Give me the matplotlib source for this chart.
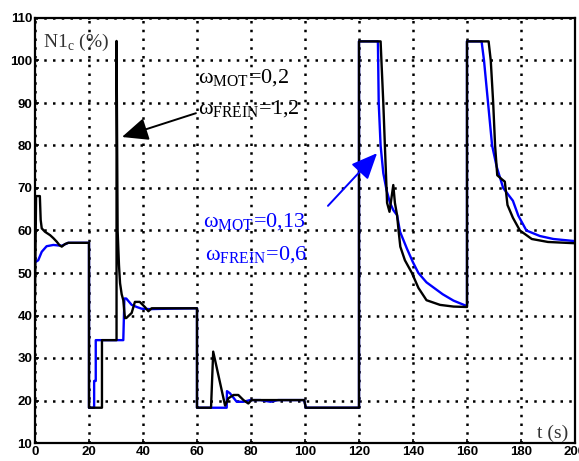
import numpy as np
import matplotlib
matplotlib.use('Agg')
import matplotlib.pyplot as plt

plt.rcParams['mathtext.fontset'] = 'custom'
plt.rcParams['mathtext.rm'] = 'Liberation Serif'

# black response (omega_MOT=0,2 / omega_FREIN=1,2)
t_black = [0, 0.4, 1.8, 2.1, 2.5, 3.7, 5.6, 6.8, 8, 9, 9.9, 11.1, 12.3, 20,
           20, 24.8, 24.8, 30.2, 30.2, 30.6, 31.1, 31.5, 32.1, 32.7, 33.3,
           33.8, 35.8, 37, 38.8, 40.7, 42, 43.2, 60, 60, 65.2, 66, 70.4, 71.6,
           73.5, 75.3, 77.2, 79, 80.2, 99.7, 100.3, 120, 120, 128, 128.4, 129,
           129.6, 130.4, 131.3, 132.7, 133.3, 134.1, 134.7, 135.3, 137, 139.6,
           142, 145, 150, 155, 160, 160, 168, 168.8, 169.7, 170.4, 171.2, 173,
           174, 175, 177, 179.6, 184, 190, 200]
n1_black = [44.8, 68.1, 68.1, 62.5, 60.5, 59.7, 58.9, 58.2, 57.4, 56.6, 56.2,
            56.8, 57.1, 57.1, 18.3, 18.3, 34.2, 34.2, 104.6, 60, 51.9, 47.6,
            45, 43.6, 39.4, 39.4, 40.6, 43.2, 43.2, 42, 41, 41.7, 41.7, 18.3,
            18.3, 31.5, 18.8, 20.5, 21.3, 21.3, 20.1, 19.3, 20.1, 20.1, 18.3,
            18.3, 104.5, 104.5, 98.6, 90, 79.7, 66.5, 64.4, 70.7, 66.5, 63.6,
            59.7, 56.2, 53, 50, 46.5, 43.6, 42.5, 42.1, 42, 104.5, 104.5, 100,
            90, 80, 73, 72, 71.5, 66, 63, 60, 58, 57.3, 57]

# blue response (omega_MOT=0,13 / omega_FREIN=0,6)
t_blue = [0, 1.2, 2.5, 4.3, 6.8, 9.9, 12.3, 20, 20, 21.9, 21.9, 22.5, 22.5,
          32.7, 32.9, 33.1, 33.8, 35.8, 37.7, 39.5, 42.6, 49.4, 60, 60, 71,
          71.1, 72.2, 74.7, 77.2, 79.7, 83.5, 87.2, 90, 99.7, 100.3, 120, 120,
          127, 127.3, 128, 129, 130.2, 131.5, 132.7, 134.1, 135.2, 137.7, 140,
          142, 145, 151, 155, 160, 160, 165.4, 166.3, 167.8, 169.3, 171, 173.4,
          177, 179, 182, 187, 192, 200]
n1_blue = [52.5, 53, 55, 56.3, 56.6, 56.4, 57.1, 57.1, 18.3, 18.3, 24.6, 24.6,
           34.2, 34.2, 39, 44, 44, 42.5, 42, 41.6, 41.5, 41.6, 41.7, 18.3,
           18.3, 22.2, 21.7, 19.7, 19.7, 20.1, 20.1, 19.7, 20.1, 20.1, 18.3,
           18.3, 104.5, 104.5, 90, 80, 73.5, 69.5, 66.5, 64.8, 63.6, 59.7,
           55.8, 52.5, 50, 47.8, 45, 43.5, 42.2, 104.5, 104.5, 100, 90, 80, 75,
           70, 67, 63.5, 60, 58.7, 58, 57.5]

xticks = np.arange(0, 201, 20)
yticks = np.arange(10, 111, 10)

fig = plt.figure(figsize=(5.79, 4.61), dpi=100)
ax = fig.add_axes([35 / 579, 18 / 461, 540 / 579, 425 / 461])

ax.plot(t_blue, n1_blue, color='#0000ff', lw=1.7)
ax.plot(t_black, n1_black, color='black', lw=1.7)

ax.set_xlim(0, 200)
ax.set_ylim(10, 110)
ax.set_xticks(xticks)
ax.set_yticks(yticks)
ax.set_xticklabels([str(v) for v in xticks], fontfamily='Liberation Sans',
                   fontweight='bold', fontsize=9.5)
ax.set_yticklabels([str(v) for v in yticks], fontfamily='Liberation Sans',
                   fontweight='bold', fontsize=9.5)
ax.tick_params(direction='in', length=3, width=1.2, pad=2)
ax.grid(True, color='black', linestyle=(0, (1, 2.5)), linewidth=1.8)
for s in ax.spines.values():
    s.set_linewidth(1.6)

serif = 'Liberation Serif'
ax.text(3, 103.2, r'N1$_{\mathrm{c}}$ (%)', fontfamily=serif, fontsize=14,
        color='#333333')
ax.text(186, 11.2, 't (s)', fontfamily=serif, fontsize=14, color='#333333')

ax.text(60.4, 94.7, r'ω$_{\mathrm{MOT}}$=0,2', fontfamily=serif, fontsize=16)
ax.text(60.4, 87.2, r'ω$_{\mathrm{FREIN}}$=1,2', fontfamily=serif, fontsize=16)
ax.text(62.2, 60.8, r'ω$_{\mathrm{MOT}}$=0,13', fontfamily=serif, fontsize=16,
        color='#0000ff')
ax.text(63, 53, r'ω$_{\mathrm{FREIN}}$=0,6', fontfamily=serif, fontsize=16,
        color='#0000ff')

ax.annotate('', xy=(32.2, 82), xytext=(59.6, 87.6),
            arrowprops=dict(arrowstyle='-|>,head_length=1.6,head_width=0.7',
                            color='black', lw=1.4, shrinkA=0, shrinkB=0))
ax.annotate('', xy=(126.7, 78.2), xytext=(108.5, 65.8),
            arrowprops=dict(arrowstyle='-|>,head_length=1.6,head_width=0.7',
                            color='#0000ff', lw=1.4, shrinkA=0, shrinkB=0))

fig.savefig('out.png', dpi=100)
